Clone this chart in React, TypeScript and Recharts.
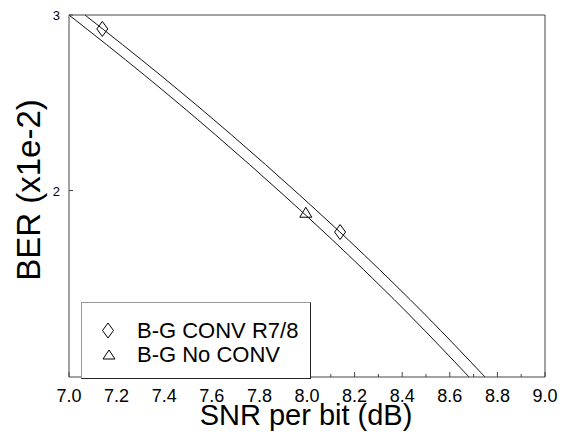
import React from 'react';
import { ComposedChart, Line, Scatter, XAxis, YAxis, Legend } from 'recharts';

// SNR per bit (dB) / BER (x1e-2)
const convSnr = [7.067, 7.383, 7.683, 7.969, 8.241, 8.498, 8.748];
const convBer = [3.0, 2.612, 2.274, 1.979, 1.723, 1.5, 1.3];
const noConvSnr = [7.0, 7.316, 7.616, 7.902, 8.174, 8.431, 8.681];
const noConvBer = [3.0, 2.612, 2.274, 1.979, 1.723, 1.5, 1.3];

const convMarkSnr = [7.14, 8.139];
const convMarkBer = [2.905, 1.817];
const noConvMarkSnr = [7.995];
const noConvMarkBer = [1.9];

const seriesNames = ['B-G CONV R7/8', 'B-G No CONV'];
const xMajor = [7.0, 7.2, 7.4, 7.6, 7.8, 8.0, 8.2, 8.4, 8.6, 8.8, 9.0];
const xMinor = [7.1, 7.3, 7.5, 7.7, 7.9, 8.1, 8.3, 8.5, 8.7, 8.9];
const yTicks = [2, 3];
const xTitle = 'SNR per bit (dB)';
const yTitle = 'BER (x1e-2)';

const xTicks = [...xMajor, ...xMinor].sort((a, b) => a - b);
const zip = (xs: number[], ys: number[]) => xs.map((x, i) => ({ x, y: ys[i] }));

const convLine = zip(convSnr, convBer);
const noConvLine = zip(noConvSnr, noConvBer);
const convMarks = zip(convMarkSnr, convMarkBer);
const noConvMarks = zip(noConvMarkSnr, noConvMarkBer);

const FONT = '"Liberation Sans", Arial, Helvetica, sans-serif';
const AXIS = '#444';

const isMajor = (v: number) => xMajor.some((m) => Math.abs(m - v) < 1e-6);

const BottomTick = (props: any) => {
  const { x, y, payload } = props;
  const v = payload.value as number;
  const major = isMajor(v);
  return (
    <g>
      <line x1={x} x2={x} y1={y} y2={y - (major ? 5 : 3)} stroke={AXIS} />
      {major && (
        <text x={x} y={y + 25} textAnchor="middle" fontSize={18} fontFamily={FONT} fill="#000">
          {v.toFixed(1)}
        </text>
      )}
    </g>
  );
};

const TopTick = (props: any) => {
  const { x, y, payload } = props;
  const major = isMajor(payload.value);
  return <line x1={x} x2={x} y1={y} y2={y + (major ? 5 : 3)} stroke={AXIS} />;
};

const LeftTick = (props: any) => {
  const { x, y, payload } = props;
  return (
    <g>
      <line x1={x} x2={x + 4} y1={y} y2={y} stroke={AXIS} />
      <text x={x - 9} y={y + 5} textAnchor="end" fontSize={13} fontFamily={FONT} fill="#000">
        {payload.value}
      </text>
    </g>
  );
};

const Diamond = (props: any) => {
  const { cx, cy } = props;
  const w = 5.5, h = 7.5;
  return (
    <path
      d={`M${cx},${cy - h} L${cx + w},${cy} L${cx},${cy + h} L${cx - w},${cy} Z`}
      fill="none"
      stroke="#000"
      strokeWidth={1}
    />
  );
};

const Triangle = (props: any) => {
  const { cx, cy } = props;
  const w = 6, h = 9;
  return (
    <path
      d={`M${cx},${cy - h / 2 - 1} L${cx + w},${cy + h / 2} L${cx - w},${cy + h / 2} Z`}
      fill="none"
      stroke="#000"
      strokeWidth={1}
    />
  );
};

const LegendBox = () => (
  <div
    style={{
      boxSizing: 'border-box',
      width: 230,
      height: 77,
      background: '#fff',
      borderTop: '1px solid #999',
      borderLeft: '1px solid #999',
      borderRight: '1px solid #222',
      borderBottom: '1px solid #222',
    }}
  >
    <svg width={228} height={75} style={{ display: 'block' }}>
      <path d="M26,20 L31.5,27.5 L26,35 L20.5,27.5 Z" fill="none" stroke="#000" />
      <path d="M27,47 L33,56 L21,56 Z" fill="none" stroke="#000" />
      <text x={55} y={35} fontSize={22} fontFamily={FONT} fill="#000">
        {seriesNames[0]}
      </text>
      <text x={55} y={59} fontSize={22} fontFamily={FONT} fill="#000">
        {seriesNames[1]}
      </text>
    </svg>
  </div>
);

export default function App() {
  return (
    <div style={{ position: 'absolute', left: 0, top: 0, width: 564, height: 434, background: '#fff' }}>
      <ComposedChart width={564} height={434} margin={{ top: 14, right: 18, left: 0, bottom: 0 }}>
        <XAxis
          xAxisId="x"
          dataKey="x"
          type="number"
          domain={[7, 9]}
          ticks={xTicks}
          interval={0}
          allowDataOverflow
          height={57}
          tickSize={0}
          tickMargin={0}
          tickLine={false}
          axisLine={{ stroke: AXIS }}
          tick={<BottomTick />}
          label={() => (
            <text x={306} y={425} textAnchor="middle" fontSize={29} fontFamily={FONT} fill="#000">
              {xTitle}
            </text>
          )}
        />
        <XAxis
          xAxisId="top"
          orientation="top"
          type="number"
          domain={[7, 9]}
          ticks={xTicks}
          interval={0}
          allowDataOverflow
          height={1}
          tickSize={0}
          tickMargin={0}
          tickLine={false}
          axisLine={{ stroke: AXIS }}
          tick={<TopTick />}
        />
        <YAxis
          yAxisId="y"
          type="number"
          scale="log"
          domain={[1.3, 3]}
          ticks={yTicks}
          interval={0}
          allowDataOverflow
          width={69}
          tickSize={0}
          tickMargin={0}
          tickLine={false}
          axisLine={{ stroke: AXIS }}
          tick={<LeftTick />}
          label={() => (
            <text
              x={40}
              y={190}
              transform="rotate(-90 40 190)"
              textAnchor="middle"
              fontSize={33}
              fontFamily={FONT}
              fill="#000"
            >
              {yTitle}
            </text>
          )}
        />
        <YAxis
          yAxisId="yr"
          orientation="right"
          type="number"
          scale="log"
          domain={[1.3, 3]}
          allowDataOverflow
          width={1}
          tick={false}
          tickLine={false}
          axisLine={{ stroke: AXIS }}
        />
        <Line
          xAxisId="x"
          yAxisId="y"
          data={convLine}
          dataKey="y"
          type="monotone"
          stroke="#111"
          strokeWidth={1}
          dot={false}
          activeDot={false}
          isAnimationActive={false}
          name={seriesNames[0]}
        />
        <Line
          xAxisId="x"
          yAxisId="y"
          data={noConvLine}
          dataKey="y"
          type="monotone"
          stroke="#111"
          strokeWidth={1}
          dot={false}
          activeDot={false}
          isAnimationActive={false}
          name={seriesNames[1]}
        />
        <Scatter
          xAxisId="x"
          yAxisId="y"
          data={convMarks}
          dataKey="y"
          shape={<Diamond />}
          isAnimationActive={false}
          name={seriesNames[0]}
        />
        <Scatter
          xAxisId="x"
          yAxisId="y"
          data={noConvMarks}
          dataKey="y"
          shape={<Triangle />}
          isAnimationActive={false}
          name={seriesNames[1]}
        />
        <Legend
          layout="vertical"
          align="center"
          verticalAlign="middle"
          content={<LegendBox />}
          wrapperStyle={{ left: 81, top: 302, width: 230, height: 77 }}
        />
      </ComposedChart>
    </div>
  );
}
